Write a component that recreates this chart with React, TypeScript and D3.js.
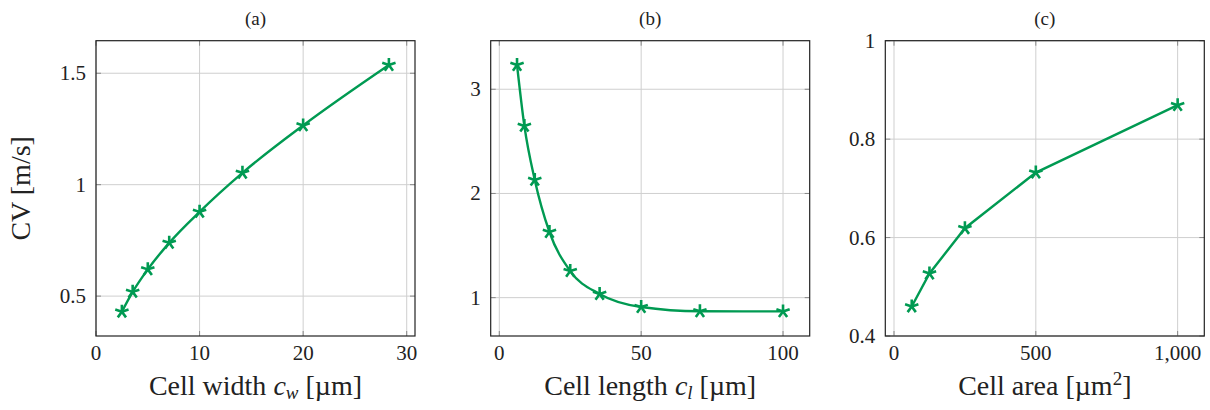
import React from 'react';
import * as d3 from 'd3';

// (a) cell width sweep
const widthX = [2.5, 3.54, 5, 7.07, 10, 14.14, 20, 28.28];
const widthCV = [0.43, 0.519, 0.62, 0.739, 0.878, 1.053, 1.266, 1.537];
// (b) cell length sweep
const lengthX = [6.25, 8.84, 12.5, 17.68, 25, 35.36, 50, 70.71, 100];
const lengthCV = [3.233, 2.648, 2.13, 1.63, 1.255, 1.035, 0.91, 0.869, 0.868];
// (c) cell area sweep
const areaX = [62.5, 125, 250, 500, 1000];
const areaCV = [0.46, 0.527, 0.619, 0.732, 0.869];

const xTicksA = [0, 10, 20, 30];
const yTicksA = [0.5, 1, 1.5];
const xTicksB = [0, 50, 100];
const yTicksB = [1, 2, 3];
const xTicksC = [0, 500, 1000];
const yTicksC = [0.4, 0.6, 0.8, 1];

const titles = ['(a)', '(b)', '(c)'];

const GREEN = '#009a52';
const FONT = "'Liberation Serif', 'Times New Roman', Tinos, 'DejaVu Serif', 'Noto Serif', serif";

const top = 40.7;
const bottom = 336;
const panelW = 319;

interface PanelProps {
  left: number;
  xs: number[];
  ys: number[];
  xDomain: [number, number];
  yDomain: [number, number];
  xTicks: number[];
  yTicks: number[];
  xFmt: (v: number) => string;
  title: string;
  xLabel: React.ReactNode;
  yLabel?: React.ReactNode;
  smooth: boolean;
}

function Star({ x, y }: { x: number; y: number }) {
  const r = 7;
  const d = d3.range(5).map(k => {
    const a = ((90 + k * 72) * Math.PI) / 180;
    return `M${x},${y}L${x + r * Math.cos(a)},${y - r * Math.sin(a)}`;
  }).join('');
  return <path d={d} stroke={GREEN} strokeWidth={2.6} fill="none" />;
}

function Panel(p: PanelProps) {
  const x = d3.scaleLinear().domain(p.xDomain).range([p.left, p.left + panelW]);
  const y = d3.scaleLinear().domain(p.yDomain).range([bottom, top]);
  const pts: [number, number][] = p.xs.map((v, i) => [x(v), y(p.ys[i])]);
  const line = d3.line().curve(p.smooth ? d3.curveMonotoneX : d3.curveLinear);
  const right = p.left + panelW;
  const tl = 5;
  return (
    <g style={{ fontFamily: FONT }}>
      {p.xTicks.map(t => (
        <g key={'gx' + t}>
          <line x1={x(t)} x2={x(t)} y1={top} y2={bottom} stroke="#cfcfcf" strokeWidth={1} />
          <line x1={x(t)} x2={x(t)} y1={bottom} y2={bottom - tl} stroke="#888" strokeWidth={1} />
          <line x1={x(t)} x2={x(t)} y1={top} y2={top + tl} stroke="#888" strokeWidth={1} />
          <text x={x(t)} y={360} textAnchor="middle" fontSize={21} fill="#222">{p.xFmt(t)}</text>
        </g>
      ))}
      {p.yTicks.map(t => (
        <g key={'gy' + t}>
          <line x1={p.left} x2={right} y1={y(t)} y2={y(t)} stroke="#cfcfcf" strokeWidth={1} />
          <line x1={p.left} x2={p.left + tl} y1={y(t)} y2={y(t)} stroke="#888" strokeWidth={1} />
          <line x1={right} x2={right - tl} y1={y(t)} y2={y(t)} stroke="#888" strokeWidth={1} />
          <text x={p.left - 10} y={y(t) + 7} textAnchor="end" fontSize={21} fill="#222">{d3.format('~g')(t)}</text>
        </g>
      ))}
      <rect x={p.left} y={top} width={panelW} height={bottom - top} fill="none" stroke="#222" strokeWidth={1.2} />
      <path d={line(pts) || ''} stroke={GREEN} strokeWidth={2.4} fill="none" />
      {pts.map((q, i) => <Star key={i} x={q[0]} y={q[1]} />)}
      <text x={p.left + panelW / 2} y={25} textAnchor="middle" fontSize={19} fill="#222">{p.title}</text>
      <text x={p.left + panelW / 2} y={395} textAnchor="middle" fontSize={28} fill="#222">{p.xLabel}</text>
      {p.yLabel && (
        <text transform={`translate(30,${(top + bottom) / 2}) rotate(-90)`} textAnchor="middle" fontSize={28} fill="#222">{p.yLabel}</text>
      )}
    </g>
  );
}

export default function App() {
  const plain = d3.format('~g');
  return (
    <svg width={1210} height={410} style={{ position: 'absolute', left: 0, top: 0, background: '#fff' }}>
      <Panel left={96} xs={widthX} ys={widthCV} xDomain={[0, 30.8]} yDomain={[0.321, 1.646]}
        xTicks={xTicksA} yTicks={yTicksA} xFmt={plain} title={titles[0]} smooth
        xLabel={<>Cell width <tspan fontStyle="italic">c</tspan><tspan fontStyle="italic" fontSize={19} dy={4}>w</tspan><tspan dy={-4}> [µm]</tspan></>}
        yLabel={<>CV [m/s]</>} />
      <Panel left={490.7} xs={lengthX} ys={lengthCV} xDomain={[-3.03, 109.4]} yDomain={[0.632, 3.466]}
        xTicks={xTicksB} yTicks={yTicksB} xFmt={plain} title={titles[1]} smooth
        xLabel={<>Cell length <tspan fontStyle="italic">c</tspan><tspan fontStyle="italic" fontSize={19} dy={4}>l</tspan><tspan dy={-4}> [µm]</tspan></>} />
      <Panel left={885.3} xs={areaX} ys={areaCV} xDomain={[-30.7, 1094]} yDomain={[0.4, 1]}
        xTicks={xTicksC} yTicks={yTicksC} xFmt={d3.format(',')} title={titles[2]} smooth={false}
        xLabel={<>Cell area [µm<tspan fontSize={19} dy={-10}>2</tspan><tspan dy={10}>]</tspan></>} />
    </svg>
  );
}
